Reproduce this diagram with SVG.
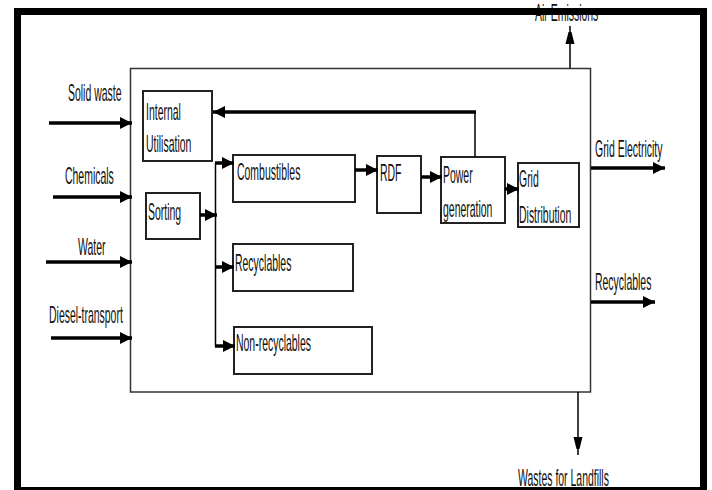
<svg xmlns="http://www.w3.org/2000/svg" width="712" height="490" viewBox="0 0 712 490">
<style>
text{font-family:"Liberation Sans",Arial,sans-serif;font-size:23px;fill:#111;}
.box{fill:#fff;stroke:#222;stroke-width:2;}
.main{fill:#fff;stroke:#333;stroke-width:1.5;}
.thick{stroke:#000;stroke-width:3.5;fill:none;}
.thin{stroke:#000;stroke-width:1.5;fill:none;}
</style>
<defs>
<marker id="ah" markerUnits="userSpaceOnUse" markerWidth="14" markerHeight="14" viewBox="0 0 14 14" refX="12" refY="7" orient="auto">
<path d="M0,1 L12,7 L0,13 Z" fill="#000"/>
</marker>
<marker id="ahs" markerUnits="userSpaceOnUse" markerWidth="12" markerHeight="20" viewBox="0 0 12 20" refX="18" refY="6" orient="auto">
<path d="M0,1.5 L18,6 L0,10.5 Z" fill="#000"/>
</marker>
</defs>
<rect x="0" y="0" width="712" height="490" fill="#fff"/>

<text transform="matrix(0.455 0 0 1 535 21)">Air Emissions</text>

<g id="main-process">
<rect class="main" x="130.5" y="68.5" width="460" height="323.5"/>
</g>

<g id="internal-utilisation">
<rect class="box" x="143" y="91" width="69" height="70"/>
<text transform="matrix(0.455 0 0 1 146 120)">Internal</text>
<text transform="matrix(0.455 0 0 1 146 152)">Utilisation</text>
</g>
<g id="sorting">
<rect class="box" x="146" y="193" width="54" height="46"/>
<text transform="matrix(0.455 0 0 1 148 220)">Sorting</text>
</g>
<g id="combustibles">
<rect class="box" x="233" y="155" width="122" height="47"/>
<text transform="matrix(0.455 0 0 1 237 180)">Combustibles</text>
</g>
<g id="recyclables">
<rect class="box" x="233" y="244" width="120" height="47"/>
<text transform="matrix(0.455 0 0 1 235 271)">Recyclables</text>
</g>
<g id="non-recyclables">
<rect class="box" x="234" y="327" width="138" height="47"/>
<text transform="matrix(0.455 0 0 1 236 351)">Non-recyclables</text>
</g>
<g id="rdf">
<rect class="box" x="377" y="156" width="44" height="57"/>
<text transform="matrix(0.455 0 0 1 380 181)">RDF</text>
</g>
<g id="power-generation">
<rect class="box" x="441" y="157" width="64" height="66"/>
<text transform="matrix(0.455 0 0 1 443 183)">Power</text>
<text transform="matrix(0.455 0 0 1 443 217)">generation</text>
</g>
<g id="grid-distribution">
<rect class="box" x="518" y="163" width="61" height="64"/>
<text transform="matrix(0.455 0 0 1 519 187)">Grid</text>
<text transform="matrix(0.455 0 0 1 519 223)">Distribution</text>
</g>

<g id="inputs">
<text transform="matrix(0.455 0 0 1 68 101)">Solid waste</text>
<text transform="matrix(0.455 0 0 1 65 184)">Chemicals</text>
<text transform="matrix(0.455 0 0 1 78 255)">Water</text>
<text transform="matrix(0.455 0 0 1 49 323)">Diesel-transport</text>
</g>
<g id="outputs">
<text transform="matrix(0.455 0 0 1 595 157)">Grid Electricity</text>
<text transform="matrix(0.455 0 0 1 595 290)">Recyclables</text>
<text transform="matrix(0.455 0 0 1 518 486)">Wastes for Landfills</text>
</g>

<g id="connectors">
<line class="thick" x1="49" y1="123" x2="132" y2="123" marker-end="url(#ah)"/>
<line class="thick" x1="53" y1="197" x2="132" y2="197" marker-end="url(#ah)"/>
<line class="thick" x1="46" y1="262" x2="132" y2="262" marker-end="url(#ah)"/>
<line class="thick" x1="51" y1="338" x2="132" y2="338" marker-end="url(#ah)"/>
<line class="thin" x1="570" y1="68" x2="570" y2="26" marker-end="url(#ahs)"/>
<line class="thin" x1="475" y1="157" x2="475" y2="112"/>
<line class="thick" x1="476" y1="112" x2="213" y2="112" marker-end="url(#ah)"/>
<line class="thick" x1="200" y1="215" x2="217" y2="215" marker-end="url(#ah)"/>
<line class="thin" x1="215.5" y1="163" x2="215.5" y2="346.5"/>
<line class="thick" x1="215" y1="163" x2="234" y2="163" marker-end="url(#ah)"/>
<line class="thick" x1="215" y1="267" x2="234" y2="267" marker-end="url(#ah)"/>
<line class="thick" x1="215" y1="346" x2="235" y2="346" marker-end="url(#ah)"/>
<line class="thick" x1="355" y1="170" x2="378" y2="170" marker-end="url(#ah)"/>
<line class="thick" x1="421" y1="177" x2="442" y2="177" marker-end="url(#ah)"/>
<line class="thick" x1="505" y1="189" x2="519" y2="189" marker-end="url(#ah)"/>
<line class="thick" x1="591" y1="168" x2="665" y2="168" marker-end="url(#ah)"/>
<line class="thick" x1="591" y1="302" x2="655" y2="302" marker-end="url(#ah)"/>
<line class="thin" x1="578" y1="392" x2="578" y2="455" marker-end="url(#ahs)"/>
</g>

<rect x="17.5" y="11.5" width="686" height="479" fill="none" stroke="#000" stroke-width="7"/>
</svg>
